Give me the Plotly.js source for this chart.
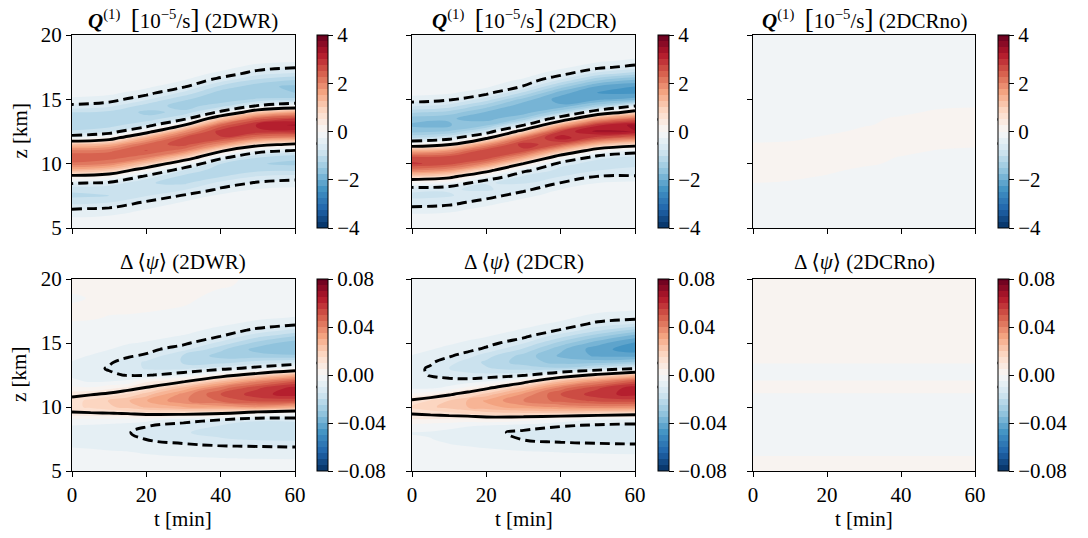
<!DOCTYPE html>
<html><head><meta charset="utf-8">
<script src="https://cdn.plot.ly/plotly-3.0.1.min.js"></script>
<style>html,body{margin:0;padding:0;background:#fff;}#chart{width:1088px;height:538px;}</style>
</head><body><div id="chart"></div>
<script>
// ---------------- data ----------------
const zKm = [5,5.5,6,6.5,7,7.5,8,8.5,9,9.5,10,10.5,11,11.5,12,12.5,13,13.5,14,14.5,15,15.5,16,16.5,17,17.5,18,18.5,19,19.5,20];
const tQ = [0,10,20,30,40,50,60];
const tPsi = [0,5,10,15,20,30,40,50,60];
const tPsiNo = [0,60];

// Q^(1) [1e-5/s], one column per time in tQ, values along zKm
const Q_2DWR = [
 [-0.1,-0.15,-0.3,-0.52,-0.85,-1.05,-0.95,-0.45,0.3,1.4,2.2,2.5,2.1,1.2,-0.2,-0.95,-1.2,-1.25,-1.0,-0.55,-0.3,-0.15,-0.1,-0.07,-0.05,-0.04,-0.03,-0.03,-0.02,-0.02,-0.02],
 [-0.1,-0.14,-0.26,-0.46,-0.76,-1.0,-0.98,-0.58,0.1,1.11,1.99,2.42,2.2,1.43,0.16,-0.76,-1.14,-1.24,-1.07,-0.67,-0.37,-0.19,-0.11,-0.08,-0.06,-0.04,-0.03,-0.03,-0.02,-0.02,-0.02],
 [-0.07,-0.09,-0.14,-0.26,-0.46,-0.76,-0.99,-0.98,-0.59,0.09,1.13,2.06,2.52,2.3,1.5,0.19,-0.74,-1.19,-1.3,-1.12,-0.71,-0.39,-0.19,-0.11,-0.08,-0.06,-0.04,-0.03,-0.03,-0.02,-0.02],
 [-0.06,-0.07,-0.09,-0.13,-0.23,-0.46,-0.78,-1.06,-1.09,-0.74,-0.03,1.03,2.07,2.65,2.55,1.79,0.45,-0.68,-1.2,-1.35,-1.22,-0.82,-0.45,-0.24,-0.12,-0.08,-0.06,-0.045,-0.035,-0.03,-0.03],
 [-0.04,-0.05,-0.06,-0.08,-0.11,-0.18,-0.45,-0.67,-1.02,-1.18,-0.99,-0.34,0.6,1.85,2.7,2.91,2.33,1.14,-0.39,-1.14,-1.39,-1.39,-1.06,-0.62,-0.31,-0.16,-0.09,-0.07,-0.05,-0.04,-0.04],
 [-0.04,-0.04,-0.05,-0.07,-0.09,-0.11,-0.23,-0.46,-0.73,-1.08,-1.23,-0.98,-0.31,0.75,2.06,2.92,3.07,2.39,1.07,-0.47,-1.22,-1.46,-1.42,-1.06,-0.65,-0.35,-0.16,-0.1,-0.07,-0.05,-0.04],
 [-0.03,-0.04,-0.05,-0.06,-0.08,-0.1,-0.19,-0.37,-0.65,-1.06,-1.31,-1.19,-0.56,0.4,1.85,2.9,3.3,2.77,1.58,-0.05,-1.19,-1.5,-1.56,-1.25,-0.8,-0.47,-0.2,-0.12,-0.08,-0.06,-0.05]
];
const Q_2DCR = [
 [-0.05,-0.08,-0.2,-0.42,-0.68,-0.8,-0.7,-0.05,0.95,2.1,2.8,2.6,1.5,0.05,-1.0,-1.6,-1.8,-1.65,-1.2,-0.7,-0.35,-0.17,-0.09,-0.06,-0.04,-0.03,-0.03,-0.02,-0.02,-0.02,-0.02],
 [-0.05,-0.07,-0.17,-0.36,-0.61,-0.77,-0.73,-0.22,0.69,1.8,2.62,2.65,1.79,0.43,-0.73,-1.47,-1.78,-1.72,-1.35,-0.85,-0.45,-0.22,-0.11,-0.07,-0.05,-0.03,-0.03,-0.02,-0.02,-0.02,-0.02],
 [-0.04,-0.05,-0.07,-0.17,-0.37,-0.62,-0.79,-0.74,-0.19,0.75,1.9,2.73,2.72,1.79,0.38,-0.82,-1.56,-1.87,-1.78,-1.38,-0.86,-0.4,-0.21,-0.11,-0.07,-0.05,-0.04,-0.03,-0.02,-0.02,-0.02],
 [-0.03,-0.04,-0.05,-0.07,-0.14,-0.33,-0.58,-0.78,-0.79,-0.39,0.49,1.65,2.65,2.92,2.21,0.84,-0.53,-1.46,-1.9,-1.93,-1.6,-1.06,-0.52,-0.29,-0.13,-0.08,-0.05,-0.04,-0.03,-0.02,-0.02],
 [-0.02,-0.03,-0.03,-0.04,-0.05,-0.1,-0.25,-0.49,-0.75,-0.84,-0.65,0.1,1.27,2.5,3.16,2.79,1.48,-0.12,-1.3,-1.95,-2.13,-1.9,-1.36,-0.78,-0.39,-0.19,-0.1,-0.06,-0.04,-0.03,-0.03],
 [-0.02,-0.02,-0.03,-0.03,-0.04,-0.05,-0.1,-0.25,-0.49,-0.76,-0.86,-0.68,0.08,1.31,2.62,3.33,2.96,1.59,-0.1,-1.37,-2.08,-2.28,-2.04,-1.46,-0.84,-0.42,-0.2,-0.1,-0.06,-0.04,-0.03],
 [-0.02,-0.02,-0.02,-0.02,-0.02,-0.05,-0.07,-0.18,-0.48,-0.66,-0.84,-0.8,-0.35,0.81,2.19,3.24,3.33,2.29,0.8,-0.55,-1.89,-2.31,-2.25,-1.78,-1.13,-0.6,-0.3,-0.15,-0.08,-0.05,-0.04]
];
const Q_2DCRno = [
 [-0.1,-0.1,-0.1,-0.1,-0.1,-0.1,-0.1,0.001,0.1,0.1,0.1,0.1,0.1,0.04,-0.1,-0.1,-0.1,-0.1,-0.1,-0.1,-0.1,-0.1,-0.1,-0.1,-0.1,-0.1,-0.1,-0.1,-0.1,-0.1,-0.1],
 [-0.1,-0.1,-0.1,-0.1,-0.1,-0.1,-0.1,-0.056,0.1,0.1,0.1,0.1,0.1,0.096,-0.1,-0.1,-0.1,-0.1,-0.1,-0.1,-0.1,-0.1,-0.1,-0.1,-0.1,-0.1,-0.1,-0.1,-0.1,-0.1,-0.1],
 [-0.1,-0.1,-0.1,-0.1,-0.1,-0.1,-0.1,-0.1,-0.04,0.1,0.1,0.1,0.1,0.1,0.088,-0.1,-0.1,-0.1,-0.1,-0.1,-0.1,-0.1,-0.1,-0.1,-0.1,-0.1,-0.1,-0.1,-0.1,-0.1,-0.1],
 [-0.1,-0.1,-0.1,-0.1,-0.1,-0.1,-0.1,-0.1,-0.1,-0.1,0.084,0.1,0.1,0.1,0.1,0.1,-0.032,-0.1,-0.1,-0.1,-0.1,-0.1,-0.1,-0.1,-0.1,-0.1,-0.1,-0.1,-0.1,-0.1,-0.1],
 [-0.1,-0.1,-0.1,-0.1,-0.1,-0.1,-0.1,-0.1,-0.1,-0.1,-0.1,-0.016,0.1,0.1,0.1,0.1,0.1,0.068,-0.1,-0.1,-0.1,-0.1,-0.1,-0.1,-0.1,-0.1,-0.1,-0.1,-0.1,-0.1,-0.1],
 [-0.1,-0.1,-0.1,-0.1,-0.1,-0.1,-0.1,-0.1,-0.1,-0.1,-0.1,-0.1,-0.024,0.1,0.1,0.1,0.1,0.1,0.08,-0.1,-0.1,-0.1,-0.1,-0.1,-0.1,-0.1,-0.1,-0.1,-0.1,-0.1,-0.1],
 [-0.1,-0.1,-0.1,-0.1,-0.1,-0.1,-0.1,-0.1,-0.1,-0.1,-0.1,-0.1,-0.1,0.1,0.1,0.1,0.1,0.1,0.1,-0.04,-0.1,-0.1,-0.1,-0.1,-0.1,-0.1,-0.1,-0.1,-0.1,-0.1,-0.1]
];

// Delta <psi>, one column per time in tPsi
const PSI_2DWR = [
 [-0.002,-0.0025,-0.003,-0.004,-0.0055,-0.0065,-0.007,-0.0055,-0.0015,0.009,0.0135,0.0125,0.008,0.001,-0.004,-0.0058,-0.006,-0.0052,-0.004,-0.003,-0.002,-0.0012,-0.0006,-0.0002,0.0003,0.0004,0.0001,-0.0003,0.0001,0.0004,0.0004],
 [-0.002,-0.0025,-0.0032,-0.0043,-0.0058,-0.007,-0.0075,-0.006,-0.0015,0.0092,0.016,0.0165,0.0092,0.0005,-0.0055,-0.0075,-0.008,-0.007,-0.0052,-0.0038,-0.0025,-0.0015,-0.0008,-0.0003,0.0002,0.0004,0.0003,0.0001,0.0003,0.0004,0.0004],
 [-0.002,-0.0027,-0.0035,-0.0047,-0.0062,-0.0077,-0.0085,-0.0068,-0.0015,0.0096,0.019,0.0205,0.0115,0.0032,-0.005,-0.0088,-0.0106,-0.0093,-0.0068,-0.0049,-0.0033,-0.002,-0.0011,-0.0005,-0.0001,0.0002,0.0003,0.0004,0.0004,0.0004,0.0004],
 [-0.002,-0.0028,-0.0037,-0.0049,-0.0068,-0.0085,-0.0097,-0.0078,-0.002,0.0105,0.022,0.0245,0.0155,0.0063,-0.0035,-0.0105,-0.0128,-0.0122,-0.0092,-0.0068,-0.0046,-0.003,-0.0017,-0.0008,-0.0002,0.0002,0.0004,0.0004,0.0004,0.0004,0.0004],
 [-0.002,-0.003,-0.004,-0.0055,-0.0075,-0.0102,-0.0115,-0.0098,-0.003,0.0125,0.026,0.0298,0.0225,0.0105,0.0043,-0.0109,-0.0155,-0.016,-0.011,-0.008,-0.0055,-0.0035,-0.002,-0.001,-0.0004,0.0001,0.0003,0.0004,0.0004,0.0004,0.0004],
 [-0.002,-0.003,-0.0045,-0.0065,-0.009,-0.0125,-0.0145,-0.0128,-0.0075,0.013,0.03,0.039,0.037,0.026,0.009,-0.006,-0.016,-0.0205,-0.0205,-0.0135,-0.0085,-0.0055,-0.0035,-0.002,-0.001,-0.0003,0.0001,0.0002,0.0003,0.0003,0.0003],
 [-0.002,-0.003,-0.0049,-0.0072,-0.0102,-0.0145,-0.017,-0.0155,-0.0099,0.0105,0.032,0.046,0.05,0.042,0.025,0.004,-0.012,-0.022,-0.027,-0.024,-0.0165,-0.0102,-0.0065,-0.004,-0.0025,-0.0014,-0.0007,-0.0003,-0.0001,0.0001,0.0001],
 [-0.002,-0.0032,-0.0052,-0.0075,-0.0105,-0.016,-0.019,-0.0185,-0.014,0.002,0.036,0.052,0.058,0.054,0.039,0.016,-0.0071,-0.018,-0.028,-0.032,-0.027,-0.019,-0.0115,-0.0065,-0.004,-0.0025,-0.0014,-0.0008,-0.0004,-0.0002,-0.0001],
 [-0.002,-0.0033,-0.0053,-0.0077,-0.0108,-0.0165,-0.0198,-0.0192,-0.013,-0.002,0.03,0.052,0.063,0.062,0.05,0.028,0.0005,-0.0155,-0.029,-0.035,-0.033,-0.0255,-0.0165,-0.0085,-0.0052,-0.0033,-0.002,-0.0012,-0.0007,-0.0004,-0.0002]
];
const PSI_2DCR = [
 [-0.001,-0.0015,-0.002,-0.003,-0.004,-0.0048,-0.0051,-0.0025,0.0045,0.0105,0.016,0.0115,0.0008,-0.006,-0.0078,-0.0084,-0.0082,-0.0068,-0.0052,-0.0035,-0.0022,-0.0013,-0.0008,-0.0005,-0.0003,-0.0002,-0.0002,-0.0001,-0.0001,-0.0001,-0.0001],
 [-0.001,-0.0015,-0.0021,-0.0031,-0.0042,-0.0049,-0.0054,-0.003,0.0042,0.0118,0.019,0.0155,0.0035,-0.0062,-0.0085,-0.0103,-0.0108,-0.0092,-0.0068,-0.0048,-0.003,-0.0018,-0.0011,-0.0007,-0.0004,-0.0003,-0.0002,-0.0002,-0.0001,-0.0001,-0.0001],
 [-0.001,-0.0016,-0.0023,-0.0034,-0.0047,-0.0058,-0.0063,-0.0038,0.0035,0.0135,0.022,0.02,0.0085,-0.0035,-0.0085,-0.0115,-0.015,-0.013,-0.0093,-0.0065,-0.0043,-0.0027,-0.0016,-0.001,-0.0006,-0.0004,-0.0003,-0.0002,-0.0002,-0.0001,-0.0001],
 [-0.001,-0.0017,-0.0025,-0.0037,-0.0052,-0.0065,-0.0072,-0.0048,0.0025,0.0155,0.025,0.0255,0.0145,0.0015,-0.0075,-0.0135,-0.0175,-0.0175,-0.0128,-0.0082,-0.0058,-0.0037,-0.0023,-0.0014,-0.0008,-0.0005,-0.0003,-0.0002,-0.0002,-0.0001,-0.0001],
 [-0.001,-0.0018,-0.0027,-0.004,-0.0058,-0.0078,-0.0086,-0.0062,0.004,0.018,0.028,0.031,0.022,0.0075,-0.0052,-0.0135,-0.0195,-0.021,-0.018,-0.0115,-0.0075,-0.0048,-0.003,-0.0018,-0.0011,-0.0007,-0.0004,-0.0003,-0.0002,-0.0001,-0.0001],
 [-0.001,-0.002,-0.003,-0.0047,-0.0072,-0.0103,-0.0112,-0.0078,0.002,0.019,0.033,0.04,0.036,0.024,0.006,-0.0115,-0.022,-0.0275,-0.027,-0.021,-0.0145,-0.0088,-0.0055,-0.0035,-0.0022,-0.0014,-0.0009,-0.0006,-0.0003,-0.0002,-0.0001],
 [-0.001,-0.002,-0.0032,-0.0052,-0.0082,-0.0118,-0.0128,-0.0098,-0.002,0.019,0.036,0.047,0.05,0.042,0.025,0.001,-0.024,-0.032,-0.036,-0.034,-0.027,-0.0185,-0.0105,-0.006,-0.0038,-0.0024,-0.0015,-0.0009,-0.0006,-0.0003,-0.0002],
 [-0.0012,-0.0022,-0.0035,-0.0055,-0.0088,-0.0125,-0.0137,-0.0115,-0.0052,0.017,0.038,0.052,0.058,0.054,0.038,0.013,-0.017,-0.032,-0.041,-0.043,-0.038,-0.029,-0.019,-0.0115,-0.0068,-0.0042,-0.0027,-0.0017,-0.001,-0.0006,-0.0004],
 [-0.0012,-0.0023,-0.0037,-0.0058,-0.0092,-0.013,-0.0142,-0.0123,-0.0058,0.0145,0.037,0.053,0.062,0.063,0.05,0.025,-0.0107,-0.029,-0.042,-0.048,-0.046,-0.038,-0.027,-0.015,-0.008,-0.0052,-0.0033,-0.0021,-0.0013,-0.0008,-0.0006]
];
// 2DCRno: no visible time dependence, columns at t = 0 and t = 60
const PSI_2DCRno = [
 [0.001,0.0008,0.0003,-0.0006,-0.001,-0.0012,-0.0012,-0.0012,-0.001,-0.001,-0.0009,-0.0006,-0.0001,0.0006,0.0001,-0.0006,-0.0004,0.0001,0.0005,0.0006,0.0006,0.0006,0.0006,0.0006,0.0006,0.0006,0.0005,0.0005,0.0005,0.0005,0.0005],
 [0.001,0.0008,0.0003,-0.0006,-0.001,-0.0012,-0.0012,-0.0012,-0.001,-0.001,-0.0009,-0.0006,-0.0001,0.0006,0.0001,-0.0006,-0.0004,0.0001,0.0005,0.0006,0.0006,0.0006,0.0006,0.0006,0.0006,0.0006,0.0005,0.0005,0.0005,0.0005,0.0005]
];

const qTickVals = [-4,-2,0,2,4];
const qTickText = ['\u22124','\u22122','0','2','4'];
const psiTickVals = [-0.08,-0.04,0,0.04,0.08];
const psiTickText = ['\u22120.08','\u22120.04','0.00','0.04','0.08'];
const tTicks = [0,20,40,60];
const zTicks = [5,10,15,20];
const caseNames = ['2DWR','2DCR','2DCRno'];

// ---------------- styling ----------------
const W = 1088, H = 538;
const FONT = {family:'"Liberation Serif", "DejaVu Serif", serif', size:21, color:'#000'};
const RdBu_r = [[0,'#053061'],[0.1,'#2166ac'],[0.2,'#4393c3'],[0.3,'#92c5de'],[0.4,'#d1e5f0'],[0.5,'#f7f7f7'],[0.6,'#fddbc7'],[0.7,'#f4a582'],[0.8,'#d6604d'],[0.9,'#b2182b'],[1,'#67001f']];
const xDom = [[72/W,295/W],[412/W,635/W],[753/W,975/W]];
const yDom = [[1-228/H,1-35/H],[1-471/H,1-279/H]];
const cbX = [316.5,657.5,997.5];
const kinds = {
  Q:{min:-4,max:4,size:0.25,lev:0.5,tv:qTickVals,tt:qTickText},
  P:{min:-0.08,max:0.08,size:0.005,lev:0.01,tv:psiTickVals,tt:psiTickText}
};
const panels = [
  {cols:Q_2DWR,t:tQ,k:'Q'},{cols:Q_2DCR,t:tQ,k:'Q'},{cols:Q_2DCRno,t:tQ,k:'Q'},
  {cols:PSI_2DWR,t:tPsi,k:'P'},{cols:PSI_2DCR,t:tPsi,k:'P'},{cols:PSI_2DCRno,t:tPsiNo,k:'P'}
];
function toRows(cols){ return zKm.map((_,i)=>cols.map(c=>c[i])); }

const traces = [], shapes = [], annotations = [];
const layout = {width:W,height:H,margin:{l:0,r:0,t:0,b:0},paper_bgcolor:'#fff',plot_bgcolor:'#fff',font:FONT,showlegend:false};
const BR = s => '<span style="font-size:27px">'+s+'</span>';

panels.forEach((p,i)=>{
  const row = Math.floor(i/3), col = i%3, K = kinds[p.k];
  const ax = i===0?'':String(i+1);
  const z = toRows(p.cols);
  const yd = yDom[row];
  traces.push({type:'contour',x:p.t,y:zKm,z:z,xaxis:'x'+ax,yaxis:'y'+ax,
    autocontour:false,contours:{coloring:'fill',showlines:false,start:K.min,end:K.max,size:K.size},
    colorscale:RdBu_r,zmin:K.min,zmax:K.max,line:{width:0,smoothing:1.3},hoverinfo:'skip',
    colorbar:{x:cbX[col]/W,xanchor:'left',xpad:0,ypad:0,y:yd[0],yanchor:'bottom',len:yd[1]-yd[0],lenmode:'fraction',
      thickness:11,thicknessmode:'pixels',outlinewidth:1,outlinecolor:'#000',borderwidth:0,
      tickmode:'array',tickvals:K.tv,ticktext:K.tt,ticks:'outside',ticklen:5,tickwidth:1,tickcolor:'#000',tickfont:FONT}
  });
  [[K.lev,'solid'],[-K.lev,'10px,5px']].forEach(([lv,dash])=>{
    traces.push({type:'contour',x:p.t,y:zKm,z:z,xaxis:'x'+ax,yaxis:'y'+ax,showscale:false,hoverinfo:'skip',
      autocontour:false,contours:{coloring:'none',showlines:true,start:lv,end:lv,size:1},
      line:{color:'#000',width:2.9,dash:dash,smoothing:1.3}});
    const yy = yd[0]+(lv-K.min)/(K.max-K.min)*(yd[1]-yd[0]);
    shapes.push({type:'line',xref:'paper',yref:'paper',x0:cbX[col]/W,x1:(cbX[col]+11)/W,y0:yy,y1:yy,line:{color:'#000',width:2.5}});
  });
  layout['xaxis'+ax] = {domain:xDom[col],anchor:'y'+ax,range:[0,60],tickmode:'array',tickvals:tTicks,
    showticklabels:row===1,ticks:'outside',ticklen:5,tickwidth:1,tickcolor:'#000',showline:true,mirror:true,linecolor:'#000',linewidth:1,
    showgrid:false,zeroline:false,tickfont:FONT};
  layout['yaxis'+ax] = {domain:yd,anchor:'x'+ax,range:[5,20],tickmode:'array',tickvals:zTicks,
    showticklabels:col===0,ticks:'outside',ticklen:5,tickwidth:1,tickcolor:'#000',showline:true,mirror:true,linecolor:'#000',linewidth:1,
    showgrid:false,zeroline:false,tickfont:FONT};
  const xc = (xDom[col][0]+xDom[col][1])/2;
  const title = row===0
    ? '<b><i>Q</i></b><sup>(1)</sup>  '+BR('[')+'10<sup>\u22125</sup>/s'+BR(']')+' ('+caseNames[col]+')'
    : '\u0394 \u27e8<i>\u03c8</i>\u27e9 ('+caseNames[col]+')';
  annotations.push({xref:'paper',yref:'paper',x:xc,y:row===0?1-19/H:1-262/H,xanchor:'center',yanchor:'middle',showarrow:false,text:title,font:FONT});
  if(col===0) annotations.push({xref:'paper',yref:'paper',x:19/W,y:(yd[0]+yd[1])/2,xanchor:'center',yanchor:'middle',textangle:-90,showarrow:false,text:'z [km]',font:FONT});
  if(row===1) annotations.push({xref:'paper',yref:'paper',x:xc,y:1-519/H,xanchor:'center',yanchor:'middle',showarrow:false,text:'t [min]',font:FONT});
});
layout.shapes = shapes; layout.annotations = annotations;
Plotly.newPlot('chart',traces,layout,{displayModeBar:false,staticPlot:true});
</script></body></html>
